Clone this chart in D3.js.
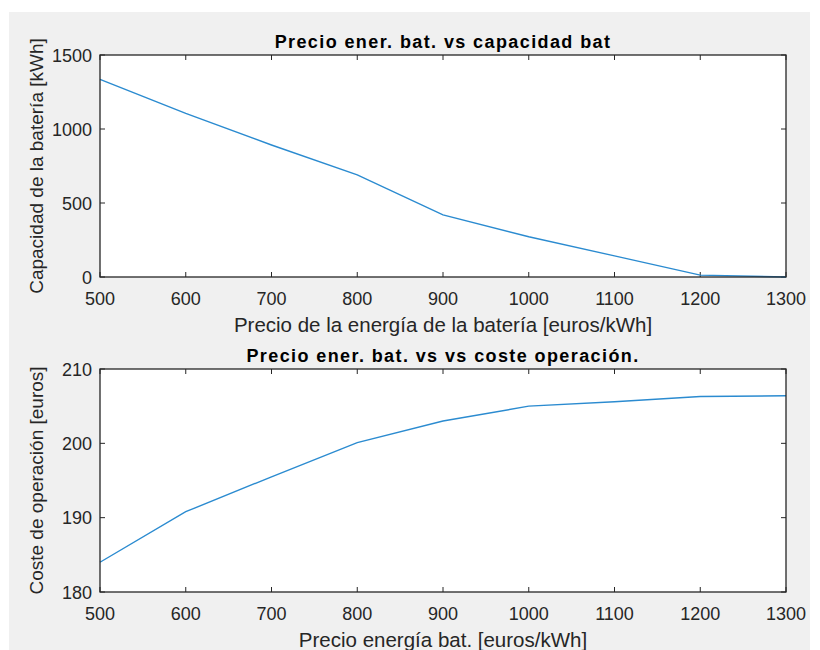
<!DOCTYPE html>
<html>
<head>
<meta charset="utf-8">
<script src="https://cdn.jsdelivr.net/npm/d3@7/dist/d3.min.js"></script>
<style>
  body { margin: 0; background: #fff; }
  svg { display: block; }
  text { font-family: "Liberation Sans", Arial, sans-serif; }
</style>
</head>
<body>
<div id="chart"></div>
<script>
// data
var precio = [500, 600, 700, 800, 900, 1000, 1100, 1200, 1300];
var capacidad = [1335, 1105, 892, 690, 420, 272, 143, 13, 0];
var coste = [184.0, 190.8, 195.5, 200.1, 203.0, 205.0, 205.6, 206.3, 206.4];
var xTicks = [500, 600, 700, 800, 900, 1000, 1100, 1200, 1300];
var yTicksCap = [0, 500, 1000, 1500];
var yTicksCoste = [180, 190, 200, 210];

var W = 820, H = 650;

var svg = d3.select("#chart").append("svg")
    .attr("width", W)
    .attr("height", H);

// gray figure background
svg.append("rect")
    .attr("x", 9).attr("y", 12)
    .attr("width", 801).attr("height", H - 12)
    .attr("fill", "#f0f0f0");

function drawPlot(cfg) {
    var g = svg.append("g")
        .attr("transform", "translate(" + cfg.left + "," + cfg.top + ")");
    var w = cfg.width, h = cfg.height;

    var x = d3.scaleLinear().domain([500, 1300]).range([0, w]);
    var y = d3.scaleLinear().domain(cfg.yDomain).range([h, 0]);

    g.append("rect")
        .attr("width", w).attr("height", h)
        .attr("fill", "#fff");

    // inward ticks on all four sides
    var tickLen = 5;
    var ticks = g.append("g").attr("stroke", "#262626").attr("stroke-width", 1);
    xTicks.forEach(function(t) {
        ticks.append("line").attr("x1", x(t)).attr("x2", x(t)).attr("y1", h).attr("y2", h - tickLen);
        ticks.append("line").attr("x1", x(t)).attr("x2", x(t)).attr("y1", 0).attr("y2", tickLen);
    });
    cfg.yTicks.forEach(function(t) {
        ticks.append("line").attr("x1", 0).attr("x2", tickLen).attr("y1", y(t)).attr("y2", y(t));
        ticks.append("line").attr("x1", w).attr("x2", w - tickLen).attr("y1", y(t)).attr("y2", y(t));
    });

    // tick labels
    g.selectAll(".xt").data(xTicks).enter().append("text")
        .attr("x", function(d) { return x(d); })
        .attr("y", h + 28)
        .attr("text-anchor", "middle")
        .attr("font-size", 18)
        .attr("fill", "#262626")
        .text(function(d) { return d; });

    g.selectAll(".yt").data(cfg.yTicks).enter().append("text")
        .attr("x", -8)
        .attr("y", function(d) { return y(d) + 6.5; })
        .attr("text-anchor", "end")
        .attr("font-size", 18)
        .attr("fill", "#262626")
        .text(function(d) { return d; });

    // the line
    var line = d3.line()
        .x(function(d, i) { return x(precio[i]); })
        .y(function(d) { return y(d); });

    g.append("path")
        .datum(cfg.values)
        .attr("d", line)
        .attr("fill", "none")
        .attr("stroke", "#2b8bd0")
        .attr("stroke-width", 1.4);

    // box
    g.append("rect")
        .attr("width", w).attr("height", h)
        .attr("fill", "none")
        .attr("stroke", "#262626")
        .attr("stroke-width", 1.3);

    // title
    g.append("text")
        .attr("x", w / 2)
        .attr("y", -7)
        .attr("text-anchor", "middle")
        .attr("font-size", 18)
        .attr("font-weight", "bold")
        .attr("letter-spacing", 1.4)
        .attr("fill", "#000")
        .text(cfg.title);

    // axis labels
    g.append("text")
        .attr("x", w / 2)
        .attr("y", h + 55)
        .attr("text-anchor", "middle")
        .attr("font-size", 20.5)
        .attr("fill", "#262626")
        .text(cfg.xLabel);

    g.append("text")
        .attr("transform", "translate(" + (-57) + "," + (h / 2) + ") rotate(-90)")
        .attr("text-anchor", "middle")
        .attr("font-size", 19)
        .attr("fill", "#262626")
        .text(cfg.yLabel);
}

drawPlot({
    left: 100, top: 55, width: 686, height: 222,
    yDomain: [0, 1500], yTicks: yTicksCap, values: capacidad,
    title: "Precio ener. bat. vs capacidad bat",
    xLabel: "Precio de la energía de la batería [euros/kWh]",
    yLabel: "Capacidad de la batería [kWh]"
});

drawPlot({
    left: 100, top: 369, width: 686, height: 223,
    yDomain: [180, 210], yTicks: yTicksCoste, values: coste,
    title: "Precio ener. bat. vs vs coste operación.",
    xLabel: "Precio energía bat. [euros/kWh]",
    yLabel: "Coste de operación [euros]"
});
</script>
</body>
</html>
